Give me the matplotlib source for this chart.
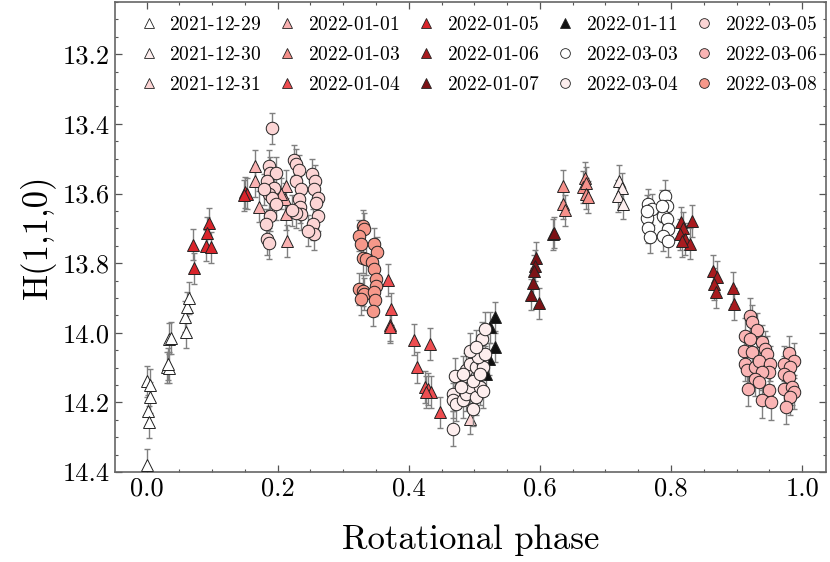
import matplotlib
matplotlib.use("Agg")
import matplotlib.pyplot as plt
from matplotlib.lines import Line2D
from matplotlib.ticker import MultipleLocator, FormatStrFormatter

plt.rcParams['font.family'] = ['cmr10', 'DejaVu Serif']
plt.rcParams['mathtext.fontset'] = 'cm'
plt.rcParams['mathtext.rm'] = 'cmr10'
plt.rcParams['axes.formatter.use_mathtext'] = True

# ---------------- data ----------------
dates = ["2021-12-29", "2021-12-30", "2021-12-31", "2022-01-01", "2022-01-03",
         "2022-01-04", "2022-01-05", "2022-01-06", "2022-01-07", "2022-01-11",
         "2022-03-03", "2022-03-04", "2022-03-05", "2022-03-06", "2022-03-08"]

phase_1229 = [0.0, 0.001, 0.005, 0.006, 0.002, 0.0035, 0.034, 0.037, 0.0315, 0.035, 0.033,
              0.0606, 0.0586, 0.061, 0.065]
h_1229 = [14.38, 14.139, 14.15, 14.185, 14.225, 14.256, 14.017, 14.015, 14.099, 14.10, 14.09,
          13.998, 13.954, 13.927, 13.90]

phase_1230 = [0.721, 0.725, 0.7196, 0.726]
h_1230 = [13.564, 13.585, 13.607, 13.629]

phase_1231 = [0.493]
h_1231 = [14.247]

phase_0101 = [0.165, 0.166, 0.172, 0.2125, 0.211, 0.2125, 0.214, 0.205]
h_0101 = [13.521, 13.564, 13.638, 13.578, 13.616, 13.659, 13.736, 13.60]

phase_0103 = [0.6355, 0.6346, 0.638, 0.6687, 0.666, 0.671, 0.670, 0.674]
h_0103 = [13.578, 13.629, 13.648, 13.554, 13.581, 13.569, 13.600, 13.610]

phase_0104 = [0.368, 0.373, 0.3716, 0.371, 0.4087, 0.4317, 0.412, 0.424, 0.429, 0.434, 0.4266, 0.447]
h_0104 = [13.848, 13.932, 13.979, 13.984, 14.020, 14.032, 14.099, 14.156, 14.161, 14.170, 14.170, 14.228]

phase_0105 = [0.071, 0.073, 0.096, 0.093, 0.090, 0.099, 0.150, 0.153, 0.148]
h_0105 = [13.747, 13.815, 13.686, 13.713, 13.75, 13.755, 13.597, 13.60, 13.605]

phase_0106 = [0.8154, 0.819, 0.832, 0.814, 0.8216, 0.829, 0.8165,
              0.864, 0.870, 0.865, 0.869, 0.8945, 0.8965]
h_0106 = [13.683, 13.698, 13.679, 13.717, 13.731, 13.744, 13.736,
          13.822, 13.839, 13.860, 13.884, 13.871, 13.917]

phase_0107 = [0.5948, 0.592, 0.591, 0.589, 0.587, 0.598, 0.620, 0.622]
h_0107 = [13.784, 13.807, 13.822, 13.858, 13.890, 13.915, 13.717, 13.712]

phase_0111 = [0.532, 0.531, 0.522, 0.5234, 0.518]
h_0111 = [13.956, 14.040, 14.075, 13.984, 14.118]

phase_0303 = [0.7655, 0.771, 0.764, 0.7655, 0.768, 0.764, 0.791, 0.7936, 0.788, 0.7936,
              0.796, 0.788, 0.796, 0.786]
h_0303 = [13.631, 13.645, 13.669, 13.698, 13.726, 13.650, 13.607, 13.636, 13.664, 13.674,
          13.702, 13.721, 13.736, 13.636]

phase_0304 = [0.467, 0.467, 0.467, 0.470, 0.4725, 0.4826, 0.488, 0.485, 0.493, 0.498,
              0.503, 0.508, 0.513, 0.488, 0.493, 0.503, 0.511, 0.513, 0.5055, 0.516,
              0.511, 0.516, 0.498, 0.480, 0.4826, 0.493, 0.503, 0.508]
h_0304 = [14.275, 14.175, 14.194, 14.123, 14.204, 14.194, 14.175, 14.146, 14.156, 14.218,
          14.185, 14.156, 14.166, 14.108, 14.089, 14.099, 14.080, 14.099, 14.070, 14.060,
          14.018, 13.989, 14.137, 14.156, 14.118, 14.051, 14.042, 14.118]

phase_0305 = [0.187, 0.189, 0.197, 0.184, 0.195, 0.187, 0.192, 0.197, 0.189, 0.182,
              0.184, 0.187, 0.225, 0.228, 0.232, 0.228, 0.235, 0.232, 0.234, 0.235,
              0.253, 0.257, 0.256, 0.262, 0.258, 0.261, 0.254, 0.256, 0.247, 0.228,
              0.222, 0.192, 0.179]
h_0305 = [13.521, 13.540, 13.540, 13.564, 13.583, 13.602, 13.612, 13.631, 13.664, 13.688,
          13.731, 13.743, 13.505, 13.516, 13.533, 13.564, 13.588, 13.616, 13.640, 13.659,
          13.545, 13.564, 13.588, 13.612, 13.626, 13.664, 13.688, 13.717, 13.707, 13.655,
          13.648, 13.413, 13.588]

phase_0306 = [0.920, 0.9235, 0.931, 0.913, 0.920, 0.939, 0.911, 0.9235, 0.944, 0.9465,
              0.913, 0.916, 0.9286, 0.934, 0.9515, 0.949, 0.939, 0.9286, 0.934, 0.917,
              0.949, 0.939, 0.9526,
              0.9795, 0.988, 0.9716, 0.981, 0.9716, 0.9795, 0.9716, 0.9847, 0.988, 0.981, 0.976]
h_0306 = [13.951, 13.970, 13.992, 14.008, 14.018, 14.027, 14.051, 14.056, 14.046, 14.060,
          14.089, 14.108, 14.099, 14.080, 14.089, 14.113, 14.113, 14.132, 14.142, 14.161,
          14.164, 14.194, 14.199,
          14.059, 14.080, 14.089, 14.099, 14.118, 14.127, 14.161, 14.156, 14.170, 14.185, 14.213]

phase_0308 = [0.3297, 0.332, 0.3246, 0.327, 0.3476, 0.351, 0.3297, 0.335, 0.344, 0.3476,
              0.350, 0.350, 0.3246, 0.3297, 0.332, 0.327, 0.3465, 0.349, 0.345]
h_0308 = [13.693, 13.702, 13.721, 13.745, 13.745, 13.769, 13.784, 13.788, 13.798, 13.817,
          13.846, 13.865, 13.874, 13.879, 13.889, 13.903, 13.884, 13.906, 13.936]

phases = [phase_1229, phase_1230, phase_1231, phase_0101, phase_0103, phase_0104, phase_0105,
          phase_0106, phase_0107, phase_0111, phase_0303, phase_0304, phase_0305, phase_0306,
          phase_0308]
mags = [h_1229, h_1230, h_1231, h_0101, h_0103, h_0104, h_0105, h_0106, h_0107, h_0111,
        h_0303, h_0304, h_0305, h_0306, h_0308]
errs = [0.045, 0.045, 0.045, 0.045, 0.045, 0.045, 0.045, 0.045, 0.045, 0.045,
        0.045, 0.05, 0.045, 0.05, 0.045]

colors = ["#ffffff", "#fdeeee", "#fcd4d4", "#f9b1b1", "#f5908a", "#ee4d50", "#d9252b",
          "#a81b1f", "#7c1216", "#111111", "#ffffff", "#fdeeee", "#fcd5d5", "#fab4b4", "#f6988a"]
markers = ["^"] * 10 + ["o"] * 5

# ---------------- plot ----------------
fig = plt.figure(figsize=(8.3, 5.62), dpi=100)
ax = fig.add_axes([0.1386, 0.160, 0.8563, 0.8364])

for i, (ph, h) in enumerate(zip(phases, mags)):
    ax.errorbar(ph, h, yerr=errs[i], fmt='none', ecolor='#808080', elinewidth=1.0,
                capsize=2.0, capthick=1.0, zorder=2 + 2 * i)
    ax.plot(ph, h, linestyle='none', marker=markers[i], markersize=9,
            markerfacecolor=colors[i], markeredgecolor='#222222', markeredgewidth=0.7,
            zorder=3 + 2 * i)

handles = [Line2D([], [], linestyle='none', marker=markers[i], markersize=7,
                  markerfacecolor=colors[i], markeredgecolor='#222222', markeredgewidth=0.6)
           for i in range(len(dates))]
labels = [r'$\text{' + d + '}$' for d in dates]
ax.legend(handles, labels, loc='upper center', ncol=5, frameon=False, fontsize=14,
          handletextpad=0.45, columnspacing=0.75, handlelength=1.2, labelspacing=0.62,
          borderaxespad=0.3, bbox_to_anchor=(0.509, 1.0))

ax.set_xlim(-0.048, 1.036)
ax.set_ylim(14.4, 13.05)
ax.xaxis.set_major_locator(MultipleLocator(0.2))
ax.xaxis.set_minor_locator(MultipleLocator(0.05))
ax.yaxis.set_major_locator(MultipleLocator(0.2))
ax.yaxis.set_minor_locator(MultipleLocator(0.05))
ax.xaxis.set_major_formatter(FormatStrFormatter('%.1f'))
ax.yaxis.set_major_formatter(FormatStrFormatter('%.1f'))
ax.tick_params(which='both', direction='in', top=True, right=True, color='#555555',
               labelsize=19)
ax.tick_params(which='major', length=5, width=0.9)
ax.tick_params(which='minor', length=2.5, width=0.8)
for s in ax.spines.values():
    s.set_color('#666666')
    s.set_linewidth(1.2)

ax.set_xlabel('Rotational phase', fontsize=25, labelpad=17)
ax.set_ylabel('H(1,1,0)', fontsize=25, labelpad=5)

fig.savefig('out.png', dpi=100)
